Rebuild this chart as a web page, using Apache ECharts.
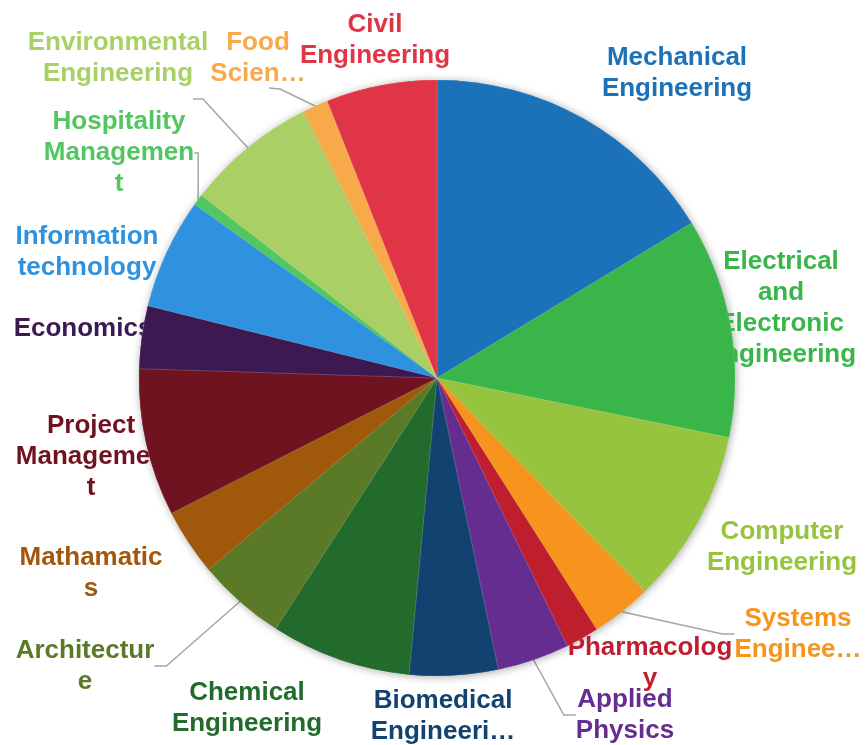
<!DOCTYPE html>
<html>
<head>
<meta charset="utf-8">
<title>Departments</title>
<script src="https://cdn.jsdelivr.net/npm/echarts@6/dist/echarts.min.js"></script>
<style>
  html, body { margin: 0; padding: 0; background: #fff; }
  #chart { width: 865px; height: 745px; }
</style>
</head>
<body>
<div id="chart"></div>
<script>
// share of each department, in %
const categories = [
  'Mechanical Engineering', 'Electrical and Electronic Engineering', 'Computer Engineering',
  'Systems Engineering', 'Pharmacology', 'Applied Physics', 'Biomedical Engineering',
  'Chemical Engineering', 'Architecture', 'Mathamatics', 'Project Management', 'Economics',
  'Information technology', 'Hospitality Management', 'Environmental Engineering',
  'Food Science', 'Civil Engineering'
];
const values = [16.3, 11.9, 9.5, 3.3, 1.8, 3.9, 4.8, 7.6, 4.8, 3.6, 8.0, 3.4, 6.0, 0.6, 7.1, 1.4, 6.0];

// label text as it is wrapped / cut in the picture
const labelText = [
  'Mechanical\nEngineering', 'Electrical\nand\nElectronic\nEngineering', 'Computer\nEngineering',
  'Systems\nEnginee…', 'Pharmacolog\ny', 'Applied\nPhysics', 'Biomedical\nEngineeri…',
  'Chemical\nEngineering', 'Architectur\ne', 'Mathamatic\ns', 'Project\nManagemen\nt', 'Economics',
  'Information\ntechnology', 'Hospitality\nManagemen\nt', 'Environmental\nEngineering',
  'Food\nScien…', 'Civil\nEngineering'
];

// slices that get a leader line
const withLeader = ['Systems Engineering', 'Applied Physics', 'Architecture',
  'Hospitality Management', 'Environmental Engineering', 'Food Science'];

const palette = [
  '#1b72b8', '#39b54a', '#96c43e', '#f7941e', '#be1e2d', '#662d91', '#124370',
  '#226b2d', '#5a7a27', '#a0580a', '#701320', '#3d1952', '#2e92df', '#52c660',
  '#aad065', '#f8a94a', '#e03447'
];

// label centres (Excel "best fit" placement)
const labelAt = [
  [677, 73], [781, 308], [782, 547], [798, 634], [650, 663], [625, 715], [443, 716],
  [247, 708], [85, 666], [91, 573], [91, 457], [83, 329], [87, 252], [119, 153],
  [118, 58], [258, 58], [375, 40]
];

// leader elbows hanging under the label (offsets from label centre), others left to echarts
const elbowUnder = {
  14: [[85, 41], [75, 41]],
  15: [[22, 31], [11, 30]]
};

const chart = echarts.init(document.getElementById('chart'));

const data = categories.map(function (name, i) {
  return {
    name: name,
    value: values[i],
    labelLine: { show: withLeader.indexOf(name) >= 0 }
  };
});

const pieBase = {
  type: 'pie',
  center: [437, 378],
  radius: 298,
  startAngle: 90,
  clockwise: true,
  avoidLabelOverlap: false,
  animation: false
};

chart.setOption({
  color: palette,
  series: [
    Object.assign({}, pieBase, {
      z: 2,
      itemStyle: {
        shadowBlur: 8,
        shadowColor: 'rgba(0,0,0,0.35)',
        shadowOffsetX: 1,
        shadowOffsetY: 1
      },
      label: {
        show: true,
        position: 'outside',
        color: 'inherit',
        fontFamily: 'Liberation Sans, Arial, sans-serif',
        fontWeight: 'bold',
        fontSize: 26,
        lineHeight: 31,
        formatter: function (p) { return labelText[p.dataIndex]; }
      },
      labelLine: {
        length: 20,
        length2: 12,
        lineStyle: { color: '#a6a6a6', width: 1.5 }
      },
      labelLayout: function (p) {
        const pos = labelAt[p.dataIndex];
        const out = { x: pos[0], y: pos[1], align: 'center', verticalAlign: 'middle' };
        const elbow = elbowUnder[p.dataIndex];
        if (elbow && p.labelLinePoints) {
          out.labelLinePoints = [
            p.labelLinePoints[0],
            [pos[0] + elbow[0][0], pos[1] + elbow[0][1]],
            [pos[0] + elbow[1][0], pos[1] + elbow[1][1]]
          ];
        }
        return out;
      },
      data: data
    }),
    // same slices again on top, so labels that run into the pie are hidden under it
    Object.assign({}, pieBase, {
      z: 3,
      silent: true,
      itemStyle: {
        borderColor: 'rgba(255,255,255,0.25)',
        borderWidth: 0.5
      },
      label: { show: false },
      labelLine: { show: false },
      data: data
    })
  ]
});
</script>
</body>
</html>
